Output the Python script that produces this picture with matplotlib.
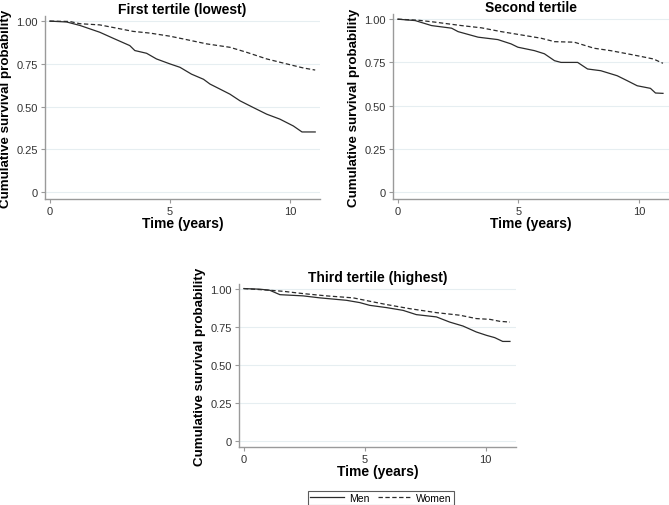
import matplotlib.pyplot as plt

plt.rcParams['font.family'] = ['Liberation Sans', 'DejaVu Sans']

# Kaplan-Meier estimates (time in years, survival)
t1_men = [0, 0.7, 1.25, 2.08, 2.7, 3.33, 3.54, 4.03, 4.44, 5.0, 5.42, 5.9, 6.4, 6.67, 7.08,
          7.5, 7.92, 8.47, 9.03, 9.58, 10.14, 10.5, 11.05]
s1_men = [1.0, 0.995, 0.975, 0.935, 0.896, 0.857, 0.828, 0.812, 0.779, 0.75, 0.73, 0.69, 0.66,
          0.632, 0.603, 0.573, 0.534, 0.495, 0.456, 0.427, 0.387, 0.352, 0.352]
t1_women = [0, 0.83, 1.25, 2.08, 2.78, 3.47, 4.17, 5.0, 5.69, 6.53, 7.5, 8.19, 9.03, 9.86,
            10.56, 11.05]
s1_women = [1.0, 0.998, 0.985, 0.978, 0.959, 0.94, 0.93, 0.912, 0.892, 0.867, 0.847, 0.818,
            0.779, 0.75, 0.726, 0.714]

t2_men = [0, 0.72, 1.4, 2.23, 2.5, 3.33, 4.15, 4.7, 4.98, 5.67, 6.08, 6.5, 6.77, 7.46, 7.87,
          8.42, 9.1, 9.52, 9.93, 10.48, 10.69, 11.0]
s2_men = [1.0, 0.992, 0.963, 0.948, 0.928, 0.896, 0.882, 0.857, 0.838, 0.818, 0.8, 0.76, 0.75,
          0.75, 0.712, 0.702, 0.673, 0.644, 0.615, 0.6, 0.573, 0.571]
t2_women = [0, 0.85, 1.54, 2.64, 3.47, 4.29, 5.12, 5.94, 6.5, 7.32, 8.14, 8.83, 9.52, 10.07,
            10.6, 11.0]
s2_women = [1.0, 0.994, 0.983, 0.963, 0.95, 0.928, 0.909, 0.89, 0.87, 0.867, 0.832, 0.818,
            0.8, 0.785, 0.77, 0.745]

t3_men = [0, 0.66, 1.07, 1.49, 2.45, 3.14, 4.24, 4.79, 5.2, 5.9, 6.58, 7.13, 7.96, 8.51, 9.06,
          9.61, 10.03, 10.37, 10.7, 11.0]
s3_men = [1.0, 0.996, 0.989, 0.96, 0.952, 0.939, 0.923, 0.908, 0.89, 0.875, 0.857, 0.829,
          0.814, 0.78, 0.754, 0.715, 0.693, 0.678, 0.653, 0.653]
t3_women = [0, 1.07, 1.63, 2.45, 3.42, 4.52, 5.2, 5.9, 6.86, 7.96, 8.93, 9.61, 10.17, 10.58,
            11.0]
s3_women = [1.0, 0.989, 0.982, 0.967, 0.952, 0.939, 0.917, 0.895, 0.868, 0.842, 0.825, 0.803,
            0.798, 0.785, 0.78]

titles = ['First tertile (lowest)', 'Second tertile', 'Third tertile (highest)']
yticks = [0, 0.25, 0.5, 0.75, 1.0]
yticklabels = ['0', '0.25', '0.50', '0.75', '1.00']
xticks = [0, 5, 10]

W, H = 669, 506
fig = plt.figure(figsize=(W / 100, H / 100), dpi=100)

# axes boxes in pixels: left, top, width, height
boxes = [(45, 17, 275, 183), (393, 15, 276, 185), (239, 285, 277, 163)]
data = [(t1_men, s1_men, t1_women, s1_women),
        (t2_men, s2_men, t2_women, s2_women),
        (t3_men, s3_men, t3_women, s3_women)]

axc = '#9a9a9a'
for (l, t, w, h), title, (tm, sm, tw, sw) in zip(boxes, titles, data):
    ax = fig.add_axes([l / W, 1 - (t + h) / H, w / W, h / H])
    m, = ax.plot(tm, sm, color='#2b2b2b', lw=0.9, label='Men')
    f, = ax.plot(tw, sw, color='#2b2b2b', lw=0.9, ls=(0, (3.5, 2)), label='Women')
    ax.set_xlim(-0.2, 11.25)
    ax.set_ylim(-0.04, 1.03)
    ax.set_yticks(yticks)
    ax.set_yticklabels(yticklabels)
    ax.set_xticks(xticks)
    ax.grid(axis='y', color='#e6eef1', lw=0.8)
    ax.set_axisbelow(True)
    for s in ['top', 'right']:
        ax.spines[s].set_visible(False)
    for s in ['left', 'bottom']:
        ax.spines[s].set_color(axc)
        ax.spines[s].set_linewidth(1.0)
    ax.tick_params(colors=axc, labelcolor='#333333', labelsize=8, length=3, width=0.8, pad=2)
    ax.set_title(title, fontsize=10, fontweight='bold', pad=2)
    ax.set_xlabel('Time (years)', fontsize=10, fontweight='bold', labelpad=0)
    ax.set_ylabel('Cumulative survival probability', fontsize=9.6, fontweight='bold',
                  labelpad=3)

leg = fig.legend(handles=[m, f], loc='center', bbox_to_anchor=(381 / W, 1 - 499 / H),
                 ncol=2, fontsize=7.5, frameon=True, fancybox=False, handlelength=3.2,
                 columnspacing=0.8, handletextpad=0.5, borderpad=0.2)
leg.get_frame().set_edgecolor('#333333')
leg.get_frame().set_linewidth(0.8)

fig.savefig('out.png', dpi=100)
